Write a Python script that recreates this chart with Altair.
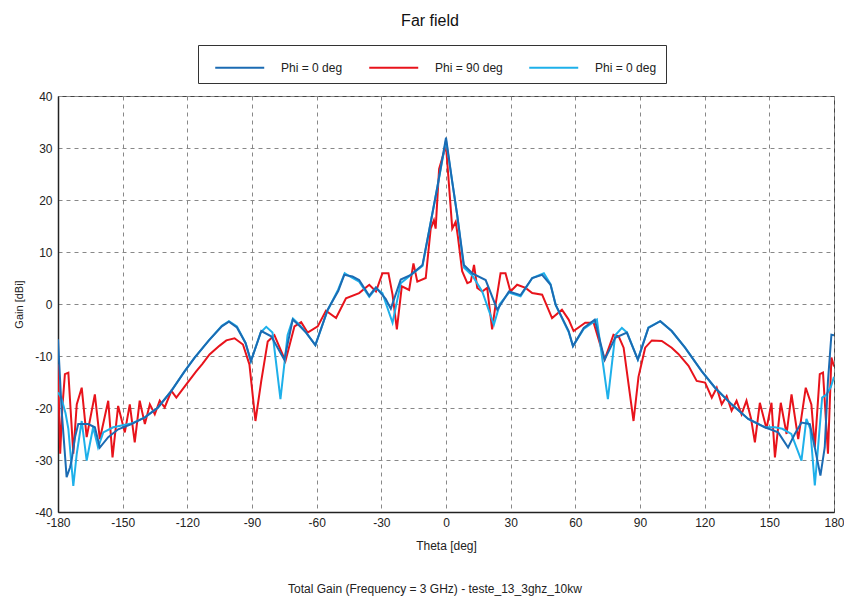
import altair as alt
import pandas as pd

# ---- data ----
series_names = ["Phi = 0 deg", "Phi = 90 deg", "Phi = 0 deg "]
series_colors = ["#1b6bb3", "#e8131b", "#1eb0ea"]

theta_blue = [-180, -178.3, -176, -174.4, -173.7, -172.1, -170.6, -166, -162.9, -160.6,
              -156.7, -152.1, -145.9, -139.7, -133.6, -127.4, -121.2, -116.6, -110, -104,
              -100.7, -97, -93, -90.5, -85.7, -81.1, -75, -71.1, -68, -64.9,
              -60.6, -54.9, -50, -47.2, -43.4, -40.3, -35.6, -32.5, -28, -25.6,
              -21, -16.3, -10.9, -7.9, -4, 0, 2.9, 5.2, 8.3, 12.2,
              18.4, 23.8, 29.2, 34.6, 40, 44.6, 48.5, 50.8, 56.9, 58.9,
              63.9, 69, 73.6, 78.5, 83.9, 89, 93.9, 99.4, 104.7, 110.9,
              118.6, 124.8, 132.5, 140.2, 147.9, 154.1, 158.7, 161.8, 164.9, 168.8,
              171.1, 173.7, 175.7, 177.2, 178.8, 180]
gain_blue = [-6.8, -20.5, -33.3, -31.4, -30.1, -25.6, -23.1, -23.1, -23.7, -27.6,
             -25.6, -24.1, -23.1, -21.8, -19.9, -16.7, -12.9, -10.3, -7, -4.3,
             -3.4, -4.5, -7.5, -11, -5.2, -6.2, -10.7, -3.0, -4.2, -5.5,
             -7.9, -1.1, 2.5, 5.6, 5.3, 4.6, 1.6, 3.2, 1, -0.9,
             4.7, 5.6, 7.5, 13.9, 22.5, 32, 23.5, 17.1, 7.5, 5.9,
             4.6, -1.1, 2.4, 1.7, 5, 5.6, 3.7, -0.1, -5.2, -8.1,
             -4.6, -3, -10.7, -6.5, -5.5, -10.7, -4.6, -3.3, -5.2, -8.4,
             -12.9, -16.1, -19.3, -22.1, -23.7, -24.7, -27.6, -25, -22.8, -23.1,
             -27.6, -33, -27.6, -14.8, -5.9, -6]

theta_cyan = [-180, -178.5, -176.5, -175.2, -172.9, -171.3, -169, -166.7, -163.7, -161.4,
              -159, -154.4, -146, -139.7, -133.6, -127.4, -121.2, -116.6, -110, -104,
              -100.7, -97, -93, -90.5, -86, -83.4, -80.5, -76.8, -73.5, -71,
              -68, -64.9, -60.6, -55, -50, -47, -43.4, -40.3, -35.6, -32.5,
              -29.5, -24.8, -21, -16.3, -10.9, -7.9, -4, 0, 2.9, 5.2,
              8.3, 12.2, 16.8, 22.2, 25, 29.2, 34.6, 40, 45.4, 48.5,
              51, 56.9, 58.9, 63.9, 70, 75.1, 78.5, 81.6, 84, 89,
              93.9, 99.4, 104.7, 110.9, 118.6, 124.8, 132.5, 140.2, 147.9, 152.6,
              156, 160.2, 164.9, 167.2, 169, 171.1, 172.6, 174.5, 176.5, 178.5, 180]
gain_cyan = [-17, -18, -21, -24, -35, -28.8, -22.5, -30.1, -23.7, -27.6,
             -24.7, -23.7, -23, -21.8, -19.9, -16.7, -12.9, -10.3, -7, -4.2,
             -3.3, -4.3, -7.5, -11, -5.5, -4.4, -5.5, -18.3, -6, -2.8,
             -4.0, -5.5, -7.9, -1.3, 2.8, 5.9, 5, 4.3, 1.4, 3.0,
             2.1, -3.6, 4, 5.6, 7.3, 14, 22.5, 31.5, 23.5, 17.1,
             7, 5.5, 2.4, -4, 0, 2.2, 1.5, 5, 5.9, 3.8,
             -0.3, -5.4, -8.1, -4.8, -3, -18.3, -6, -4.6, -5.5, -10.7,
             -4.5, -3.3, -5.2, -8.4, -12.9, -16.1, -19.3, -22.1, -23.7, -23.7,
             -24, -25, -30.1, -22.1, -24, -34.9, -27.6, -18, -17.4, -16, -14]

theta_red = [-180, -179, -178, -176.8, -175.2, -172.9, -171.3, -169, -166.7, -162.9,
             -160.6, -156.7, -154.7, -152.1, -149, -146.7, -144.4, -142.1, -139.7, -137.4,
             -135.1, -132.8, -130.5, -127.4, -125.1, -120.4, -115.8, -113, -109.7, -105,
             -101.9, -98.1, -94.2, -91.2, -88.4, -85.7, -82.7, -79.6, -74.5, -70.3,
             -67.2, -64.2, -59.5, -55.7, -51, -46.4, -40.3, -35.6, -32.5, -29.5,
             -26.7, -24.8, -22.8, -20.5, -17.1, -15.1, -13.3, -9.4, -7.1, -5.6,
             -4.8, -3.2, 0, 2.9, 4.5, 5.5, 7.5, 9.9, 11.5, 13,
             14.5, 16.8, 19.1, 21.4, 23, 25.3, 27.6, 29.9, 33, 36.9,
             40, 44.6, 49.2, 53.8, 56.9, 59.2, 64.6, 68.5, 73.6, 77.7,
             80.1, 82.4, 87, 89.3, 92.4, 95.5, 100.1, 104.7, 107.8, 112.5,
             116.3, 120.2, 123.3, 125.6, 127.9, 130.2, 132.5, 134.8, 137.1, 139.4,
             141.5, 143.3, 145.6, 148.7, 151, 152.6, 155.3, 158, 160.3, 163.4,
             166.9, 169.5, 171.1, 173.4, 174.9, 177.2, 178.8, 180]
gain_red = [-11.6, -28.8, -20, -13.5, -13.2, -28.8, -19.3, -16.1, -25.6, -17.4,
            -26, -18.6, -29.5, -19.6, -24.7, -19.3, -26.6, -18.6, -23.1, -19.3,
            -21.2, -18.6, -19.9, -16.7, -18, -15.4, -12.9, -11.5, -9.7, -8,
            -7, -6.6, -7.8, -11.6, -22.5, -14.8, -7.2, -6.0, -11, -4.3,
            -3.5, -5.5, -4.3, -1.3, -2.7, 1.1, 2.1, 3.7, 2.4, 5.9,
            5.9, 1.8, -4.9, 3.4, 2.7, 7.8, 4.3, 5, 14.5, 16.1,
            14.5, 26, 30.5, 14.5, 15.8, 13, 6.3, 4, 4.3, 7.5,
            3.1, 2.4, 3.1, -4.9, -0.1, 5.9, 5.9, 2.4, 3.7, 3.1,
            2.1, 1.8, -2.7, -1.1, -3, -5.2, -3.6, -3.6, -10.7, -5.9,
            -6.2, -8.4, -22.5, -14, -8.4, -7, -7.1, -8.4, -9.6, -11.9,
            -14.8, -15.1, -18, -16.1, -19.3, -17.7, -20.5, -18.6, -21.2, -18.6,
            -22, -26.6, -19, -24, -19, -29.5, -19, -25, -17.4, -26,
            -16.1, -19.3, -27.6, -13.5, -13.2, -28.8, -10.3, -12]

x_ticks = [-180, -150, -120, -90, -60, -30, 0, 30, 60, 90, 120, 150, 180]
y_ticks = [-40, -30, -20, -10, 0, 10, 20, 30, 40]

FONT = "Liberation Sans"

df_blue = pd.DataFrame({"theta": theta_blue, "gain": gain_blue, "series": series_names[0]})
df_red = pd.DataFrame({"theta": theta_red, "gain": gain_red, "series": series_names[1]})
df_cyan = pd.DataFrame({"theta": theta_cyan, "gain": gain_cyan, "series": series_names[2]})

x_enc = alt.X("theta:Q", scale=alt.Scale(domain=[-180, 180], nice=False, zero=False),
              axis=alt.Axis(values=x_ticks, title="Theta [deg]", labelExpr="datum.value + ''",
                            labelFlush=False))
y_enc = alt.Y("gain:Q", scale=alt.Scale(domain=[-40, 40], nice=False, zero=False),
              axis=alt.Axis(values=y_ticks, title="Gain [dBi]", labelExpr="datum.value + ''",
                            labelFlush=False))
color_enc = alt.Color("series:N",
                      scale=alt.Scale(domain=series_names, range=series_colors),
                      sort=series_names,
                      legend=alt.Legend(title=None, orient="none", legendX=140, legendY=-51,
                                        direction="horizontal", symbolType="M-0.43,0L3.57,0",
                                        symbolSize=600, symbolStrokeWidth=2,
                                        labelFont=FONT, labelFontSize=12, labelColor="#222",
                                        labelOffset=47, columnPadding=18,
                                        strokeColor="#333", fillColor="white",
                                        padding=9))

def line_layer(df):
    return alt.Chart(df).mark_line(strokeWidth=2, clip=True).encode(
        x=x_enc, y=y_enc, color=color_enc, order=alt.Order("theta:Q"))

caption = alt.Chart(pd.DataFrame({"t": ["Total Gain (Frequency = 3 GHz) - teste_13_3ghz_10kw"]})).mark_text(
    font=FONT, fontSize=12, color="#222", align="center", baseline="middle"
).encode(text="t:N", x=alt.value(377), y=alt.value(493))

chart = alt.layer(line_layer(df_red), line_layer(df_cyan), line_layer(df_blue), caption).properties(
    width=776, height=416,
    title=alt.TitleParams("Far field", font=FONT, fontSize=16, fontWeight="normal",
                          color="#111", anchor="middle", offset=16, dx=-16),
    autosize=alt.AutoSizeParams(type="none"),
    padding={"left": 58, "top": 96, "right": 10, "bottom": 84},
).configure_view(
    stroke="#444", strokeWidth=1
).configure_axis(
    labelFont=FONT, titleFont=FONT, labelFontSize=12, titleFontSize=12,
    labelColor="#222", titleColor="#222", titleFontWeight="normal",
    grid=True, gridColor="#888", gridDash=[4, 4], gridWidth=1,
    ticks=False, domainColor="#222", domainWidth=1.5
).configure_axisX(
    labelPadding=5, titlePadding=12
).configure_axisY(
    labelPadding=6, titlePadding=10, titleFontSize=11
)

chart.save("out.html", embed_options={"renderer": "svg", "actions": False})
